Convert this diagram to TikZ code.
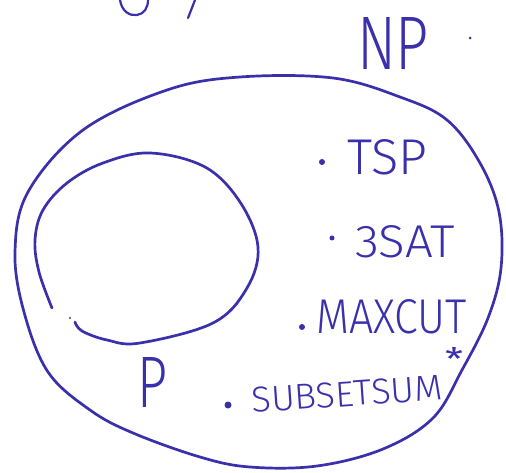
\documentclass[tikz,border=0pt]{standalone}
\usepackage{fontspec}
\newfontfamily\hand{Fira Sans Light}
\newfontfamily\handbold{Fira Sans}
\definecolor{ink}{RGB}{58,48,172}
\tikzset{
  pen/.style={draw=ink, line width=2.7pt, line cap=round, line join=round},
  lbl/.style={inner sep=0pt, outer sep=0pt, anchor=south west, text=ink},
  itemdot/.style={circle, fill=ink, inner sep=0pt, minimum size=#1},
}
\begin{document}
\begin{tikzpicture}[x=1pt, y=-1pt]
\useasboundingbox (0,0) rectangle (506,473);
% outer set NP
\draw[pen] plot[smooth cycle, tension=0.6] coordinates {
  (240,77) (333,78) (400,97) (447,120) (480,163) (499,212) (501,268)
  (488,318) (462,370) (433,418) (383,449) (317,466) (250,467) (200,457)
  (133,433) (90,410) (48,372) (24,312) (15,252) (28,192) (83,130) (167,90)};
% inner set P (drawn with a small gap at lower left)
\draw[pen] plot[smooth, tension=0.6] coordinates {
  (52,308) (39,272) (35,240) (43,210) (67,183) (103,163) (150,153)
  (205,167) (240,202) (258,247) (247,288) (213,323) (140,343) (107,340)
  (82,331) (75,322)};
\fill[ink] (70,318) circle (1.2pt);
% fragment of writing at the top edge
\draw[pen, line width=2.2pt] (120,0) .. controls (122,12) and (130,16) .. (137,15)
  .. controls (144,14) and (148,8) .. (148,0);
\draw[pen, line width=2.2pt] (195,0) -- (188,18);
% labels
\node[lbl] (np) at (357,70) {\resizebox{72pt}{52pt}{\hand NP}};
\node[itemdot=3pt] (npdot) at (470,38) {};
\node[lbl] (p) at (137,407) {\resizebox{30pt}{50pt}{\hand P}};
\node[itemdot=6pt] (d1) at (322,162) {};
\node[lbl] (tsp) at (347,175) {\resizebox{80pt}{35pt}{\hand TSP}};
\node[itemdot=5pt] (d2) at (332,238) {};
\node[lbl] (sat) at (355,258) {\resizebox{100pt}{32pt}{\hand 3SAT}};
\node[itemdot=6pt] (d3) at (302,327) {};
\node[lbl] (maxcut) at (316,334) {\resizebox{151pt}{34pt}{\hand MAXCUT}};
\node[itemdot=7pt] (d4) at (228,405) {};
\node[inner sep=0pt, text=ink, rotate=4] (subsetsum) at (347,394) {\resizebox{191pt}{25pt}{\hand SUBSETSUM}};
\node[inner sep=0pt, text=ink] (star) at (454,359) {\resizebox{18pt}{23pt}{\handbold *}};
\end{tikzpicture}
\end{document}
